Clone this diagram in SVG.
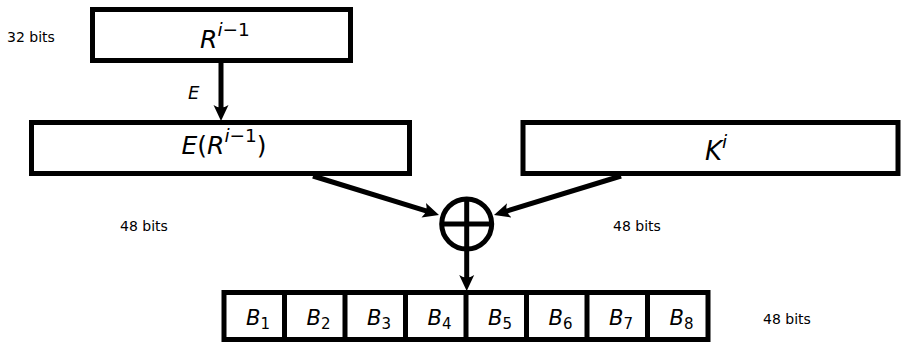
<svg xmlns="http://www.w3.org/2000/svg" width="901" height="345" viewBox="0 0 901 345">
<style>
.box{fill:#fff;stroke:#000;stroke-width:5}
.ln{fill:none;stroke:#000;stroke-width:5}
.conn{fill:none;stroke:#000;stroke-width:5;marker-end:url(#ah)}
.lbl{font-family:"DejaVu Sans","Liberation Sans",sans-serif;font-size:14px;fill:#000}
.math{font-family:"DejaVu Sans","Liberation Sans",sans-serif;font-style:italic;fill:#000}
.up{font-style:normal}
</style>
<defs>
<marker id="ah" markerUnits="userSpaceOnUse" viewBox="0 -8 16 16" refX="5" refY="0" markerWidth="16" markerHeight="16" orient="auto">
<path d="M16,0 L0,-7.5 Q5,0 0,7.5 Z" fill="#000"/>
</marker>
</defs>
<rect width="901" height="345" fill="#fff"/>
<g id="R">
<rect class="box" x="92.5" y="9.5" width="258" height="51"/>
<text class="math" x="225" y="48" font-size="25" text-anchor="middle">R<tspan font-size="18.5" dy="-12">i</tspan><tspan class="up" font-size="18.5">−1</tspan></text>
</g>
<g id="ER">
<rect class="box" x="31.5" y="122.5" width="378" height="51"/>
<text class="math" x="224" y="154" font-size="25" text-anchor="middle">E<tspan class="up">(</tspan>R<tspan font-size="18.5" dy="-12">i</tspan><tspan class="up" font-size="18.5">−1</tspan><tspan class="up" dy="12">)</tspan></text>
</g>
<g id="K">
<rect class="box" x="523" y="122.5" width="375" height="51"/>
<text class="math" x="716" y="159.5" font-size="26" text-anchor="middle">K<tspan font-size="18.5" dy="-12">i</tspan></text>
</g>
<g id="xor">
<circle class="ln" cx="466.7" cy="224" r="25"/>
<line class="ln" x1="441.7" y1="224" x2="491.7" y2="224"/>
<line class="ln" x1="466.7" y1="199" x2="466.7" y2="249"/>
</g>
<g id="B">
<rect class="box" x="224" y="292.5" width="484" height="47"/>
<path class="ln" d="M284.5,292.5V339.5M345,292.5V339.5M405.5,292.5V339.5M466,292.5V339.5M526.5,292.5V339.5M587,292.5V339.5M647.5,292.5V339.5"/>
<g class="math" font-size="21" text-anchor="middle">
<text x="258" y="325">B<tspan class="up" font-size="15" dy="3.5">1</tspan></text>
<text x="318.5" y="325">B<tspan class="up" font-size="15" dy="3.5">2</tspan></text>
<text x="379" y="325">B<tspan class="up" font-size="15" dy="3.5">3</tspan></text>
<text x="439.5" y="325">B<tspan class="up" font-size="15" dy="3.5">4</tspan></text>
<text x="500" y="325">B<tspan class="up" font-size="15" dy="3.5">5</tspan></text>
<text x="560.5" y="325">B<tspan class="up" font-size="15" dy="3.5">6</tspan></text>
<text x="621" y="325">B<tspan class="up" font-size="15" dy="3.5">7</tspan></text>
<text x="681.5" y="325">B<tspan class="up" font-size="15" dy="3.5">8</tspan></text>
</g>
</g>
<g id="labels">
<text class="lbl" x="7" y="42">32 bits</text>
<text class="lbl" x="120" y="231">48 bits</text>
<text class="lbl" x="613" y="231">48 bits</text>
<text class="lbl" x="763" y="324">48 bits</text>
<text class="math" x="188" y="99" font-size="18">E</text>
</g>
<g id="connectors">
<line class="conn" x1="221" y1="63" x2="221" y2="110"/>
<line class="conn" x1="313" y1="176" x2="428.5" y2="211.7"/>
<line class="conn" x1="621" y1="176" x2="504.5" y2="211.8"/>
<line class="conn" x1="466.7" y1="249" x2="466.7" y2="280"/>
</g>
</svg>
